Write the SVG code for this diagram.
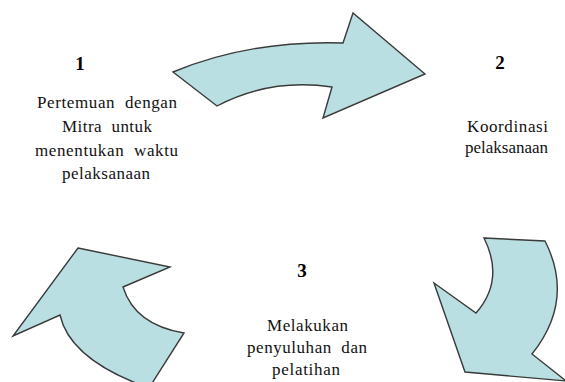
<svg xmlns="http://www.w3.org/2000/svg" width="565" height="382" viewBox="0 0 565 382">
<style>
.arrow{fill:#b9dfe3;stroke:#3a3a3a;stroke-width:1.4;stroke-linejoin:miter}
.num{font-weight:bold;font-size:19px;fill:#000;text-anchor:middle}
.lbl{font-size:17px;fill:#111}
</style>
<rect width="565" height="382" fill="#fff"/>
<g id="connectors">
<path id="arrow-1-2" class="arrow" d="M173,72 Q250,40 343,43 L353,13 L425,74 L323,118 L332,87 Q270,78 217,106 Z"/>
<path id="arrow-2-3" class="arrow" d="M484,238 L545,241 Q575,300 532,354 L566,381 L465,372 L434,283 L476,313 Q505,280 484,238 Z"/>
<path id="arrow-3-1" class="arrow" d="M78,248 L170,267 L123,287 Q135,325 184,333 L149,388 Q70,360 60,315 L13,336 Z"/>
</g>
<g font-family="Times New Roman, Liberation Serif, DejaVu Serif, serif">
<g id="node-1">
<text class="num" x="80" y="70">1</text>
<text class="lbl" x="37" y="108" textLength="140" lengthAdjust="spacing" xml:space="preserve">Pertemuan  dengan</text>
<text class="lbl" x="62" y="132" textLength="90" lengthAdjust="spacing" xml:space="preserve">Mitra  untuk</text>
<text class="lbl" x="35" y="156" textLength="143" lengthAdjust="spacing" xml:space="preserve">menentukan  waktu</text>
<text class="lbl" x="62" y="179" textLength="88" lengthAdjust="spacing">pelaksanaan</text>
</g>
<g id="node-2">
<text class="num" x="500" y="69">2</text>
<text class="lbl" x="467" y="132" textLength="81" lengthAdjust="spacing">Koordinasi</text>
<text class="lbl" x="465" y="153" textLength="83" lengthAdjust="spacing">pelaksanaan</text>
</g>
<g id="node-3">
<text class="num" x="302" y="277">3</text>
<text class="lbl" x="267" y="331" textLength="81" lengthAdjust="spacing">Melakukan</text>
<text class="lbl" x="247" y="353" textLength="120" lengthAdjust="spacing" xml:space="preserve">penyuluhan  dan</text>
<text class="lbl" x="272" y="375" textLength="68" lengthAdjust="spacing">pelatihan</text>
</g>
</g>
</svg>
